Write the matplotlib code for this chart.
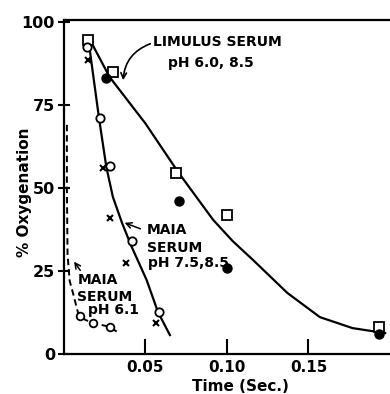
import numpy as np
import matplotlib.pyplot as plt

# Limulus serum (pH 6.0 squares, pH 8.5 filled circles)
lim_sq_t = [0.015, 0.030, 0.069, 0.100, 0.193]
lim_sq_y = [94.5, 85, 54.5, 42, 8]
lim_dot_t = [0.026, 0.0705, 0.100, 0.193]
lim_dot_y = [83, 46, 26, 6]
lim_fit_t = [0.017, 0.028, 0.050, 0.070, 0.0915, 0.1035, 0.116, 0.137, 0.157, 0.177, 0.197]
lim_fit_y = [93.6, 83.4, 69.4, 54.8, 40.4, 34, 28.3, 18.4, 11.1, 7.8, 6.3]

# Maia serum pH 7.5 (open circles) and 8.5 (crosses)
maia_o_t = [0.014, 0.022, 0.028, 0.0415, 0.058]
maia_o_y = [92.5, 71, 56.5, 34, 12.7]
maia_x_t = [0.015, 0.024, 0.028, 0.038, 0.0565]
maia_x_y = [88.5, 56, 41, 27.5, 9.4]
maia_fit_t = [0.0153, 0.0215, 0.026, 0.030, 0.0356, 0.0415, 0.0507, 0.0577, 0.065]
maia_fit_y = [93.5, 71, 56.3, 47.3, 39.5, 32.3, 22.3, 12.6, 5.7]

# Maia serum pH 6.1
m61_t = [0.0098, 0.018, 0.028]
m61_y = [11.4, 9.3, 8.2]
m61_fit_t = [0.0018, 0.0018, 0.0022, 0.0035, 0.0055, 0.0086, 0.013, 0.018, 0.028, 0.0325]
m61_fit_y = [69, 50, 30, 22, 18.4, 12.5, 10.3, 9.3, 8.2, 6.7]

fig = plt.figure(figsize=(3.9, 3.94), dpi=100)
ax = fig.add_axes([0.164, 0.1015, 0.836, 0.848])

ax.plot(lim_fit_t, lim_fit_y, color="black", lw=1.6)
ax.plot(maia_fit_t, maia_fit_y, color="black", lw=1.6)
ax.plot(m61_fit_t, m61_fit_y, color="black", lw=1.4, ls=(0, (3.3, 2)))

ax.plot(lim_sq_t, lim_sq_y, "s", mfc="white", mec="black", mew=1.3, ms=6.5)
ax.plot(lim_dot_t, lim_dot_y, "o", color="black", ms=6.5)
ax.plot(maia_o_t, maia_o_y, "o", mfc="white", mec="black", mew=1.3, ms=6)
ax.plot(maia_x_t, maia_x_y, "x", color="black", mew=1.5, ms=5)
ax.plot(m61_t, m61_y, "o", mfc="white", mec="black", mew=1.3, ms=5.5)

ax.set_xlim(0, 0.2)
ax.set_ylim(0, 100.6)
ax.set_xticks([0.05, 0.10, 0.15])
ax.set_xticklabels(["0.05", "0.10", "0.15"])
ax.set_yticks([0, 25, 50, 75, 100])
ax.tick_params(axis="x", direction="in", length=11, width=1.5, labelsize=11, pad=4)
ax.tick_params(axis="y", direction="inout", length=9, width=1.5, labelsize=11.5, pad=2)
for lab in ax.get_xticklabels() + ax.get_yticklabels():
    lab.set_fontweight("bold")
ax.spines["right"].set_visible(False)
for s in ["left", "bottom", "top"]:
    ax.spines[s].set_linewidth(1.6)

ax.set_xlabel("Time (Sec.)", fontsize=11, fontweight="bold")
ax.xaxis.set_label_coords(0.54, -0.075)
ax.set_ylabel("% Oxygenation", fontsize=11, fontweight="bold")
ax.yaxis.set_label_coords(-0.098, 0.485)

txt = dict(fontsize=10, fontweight="bold", ha="left", va="center")
ax.text(0.0546, 94, "LIMULUS SERUM", **txt)
ax.text(0.064, 87.6, "pH 6.0, 8.5", **txt)
ax.text(0.0508, 37.3, "MAIA", **txt)
ax.text(0.0508, 32, "SERUM", **txt)
ax.text(0.0515, 27.4, "pH 7.5,8.5", **txt)
ax.text(0.0083, 22.3, "MAIA", **txt)
ax.text(0.0083, 17.2, "SERUM", **txt)
ax.text(0.0148, 13.4, "pH 6.1", **txt)

ax.annotate("", xy=(0.0362, 81.6), xytext=(0.0546, 93.7),
            arrowprops=dict(arrowstyle="->", color="black", lw=1.2,
                            connectionstyle="arc3,rad=0.35"))
ax.annotate("", xy=(0.0356, 39.8), xytext=(0.0485, 37.4),
            arrowprops=dict(arrowstyle="->", color="black", lw=1.1))
ax.annotate("", xy=(0.0052, 28.5), xytext=(0.011, 24.5),
            arrowprops=dict(arrowstyle="->", color="black", lw=1.1))

fig.savefig("out.png", dpi=100)
